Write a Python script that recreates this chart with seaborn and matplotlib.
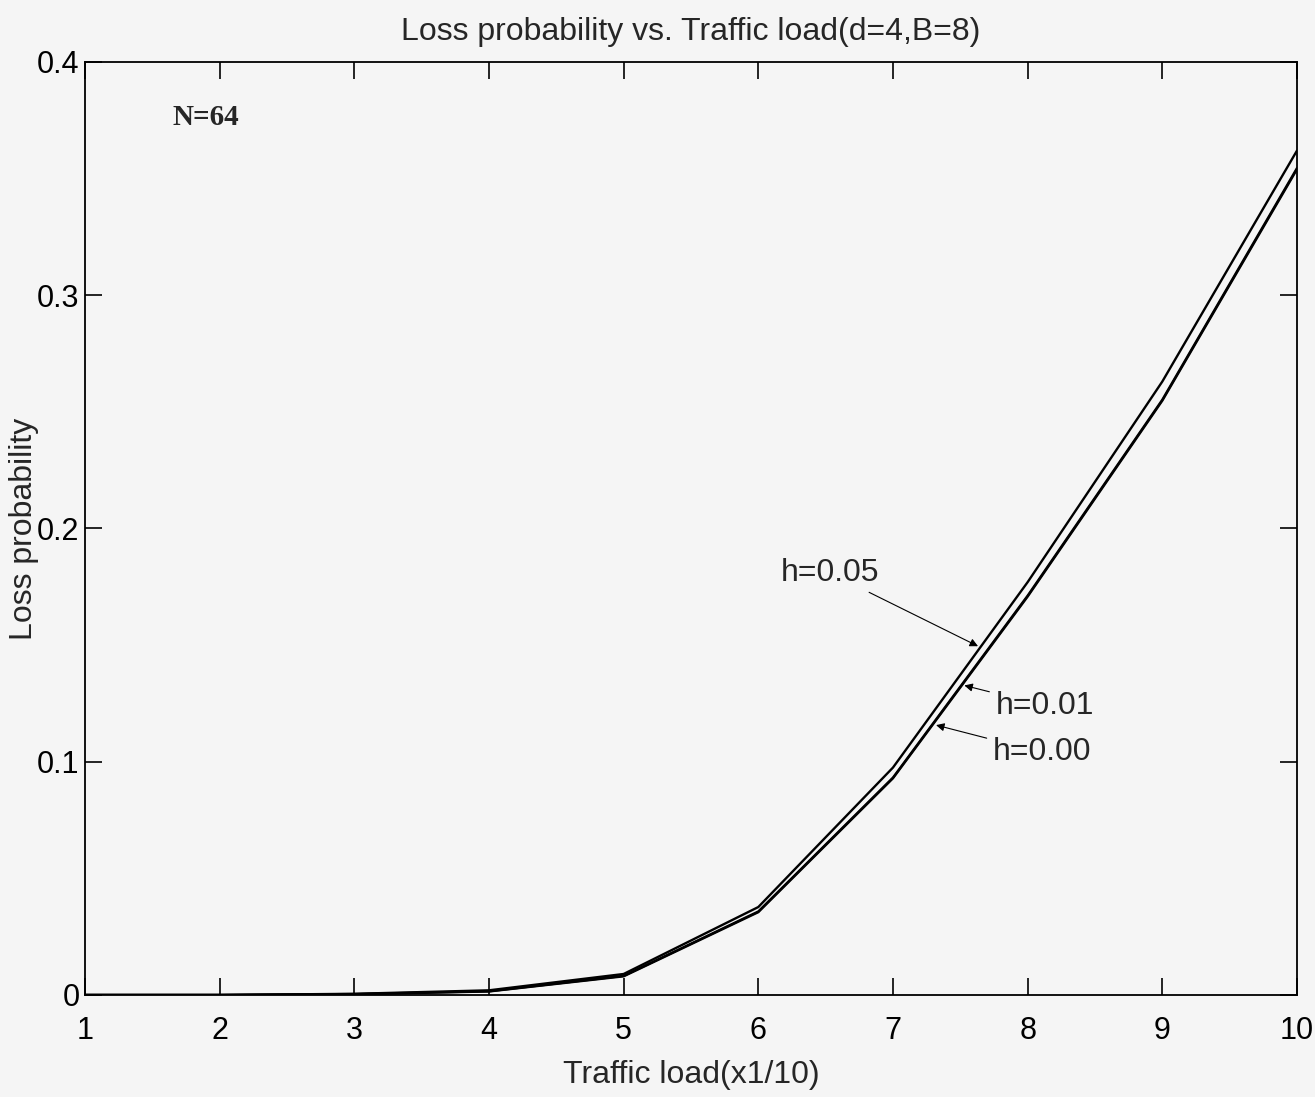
import matplotlib
matplotlib.use("Agg")
import matplotlib.pyplot as plt
import seaborn as sns
import pandas as pd

# ---- data ----
traffic_load = [1, 2, 3, 4, 5, 6, 7, 8, 9, 10]
loss_h005 = [0.0, 0.0, 0.0005, 0.002, 0.009, 0.0377, 0.0975, 0.177, 0.263, 0.362]
loss_h001 = [0.0, 0.0, 0.0004, 0.0016, 0.0082, 0.0358, 0.0932, 0.1712, 0.2552, 0.3545]
loss_h000 = [0.0, 0.0, 0.0003, 0.0015, 0.008, 0.0355, 0.0929, 0.1708, 0.2548, 0.354]
series_names = ["h=0.05", "h=0.01", "h=0.00"]
x_ticks = [1, 2, 3, 4, 5, 6, 7, 8, 9, 10]
y_ticks = [0, 0.1, 0.2, 0.3, 0.4]
y_tick_labels = ["0", "0.1", "0.2", "0.3", "0.4"]

df = pd.DataFrame({
    "load": traffic_load * 3,
    "loss": loss_h005 + loss_h001 + loss_h000,
    "h": [series_names[0]] * 10 + [series_names[1]] * 10 + [series_names[2]] * 10,
})

sns.set_theme(style="ticks")
plt.rcParams["font.family"] = ["Liberation Sans", "DejaVu Sans"]

bg = "#f5f5f5"
fig = plt.figure(figsize=(13.15, 10.97), dpi=100, facecolor=bg)
ax = fig.add_axes([0.0646, 0.093, 0.9217, 0.8505])
ax.set_facecolor(bg)

sns.lineplot(data=df, x="load", y="loss", hue="h", hue_order=series_names,
             palette=["black", "black", "black"], legend=False, ax=ax,
             linewidth=1.7, estimator=None, sort=False)

ax.set_xlim(1, 10)
ax.set_ylim(0, 0.4)
ax.set_xticks(x_ticks)
ax.set_yticks(y_ticks)
ax.set_yticklabels(y_tick_labels)
ax.tick_params(direction="in", length=12, width=1.2, top=True, right=True,
               labelsize=22, colors="black")
ax.tick_params(axis="x", pad=15)
ax.tick_params(axis="y", pad=4)
for s in ax.spines.values():
    s.set_visible(True)
    s.set_linewidth(1.3)
    s.set_color("black")

ax.set_title("Loss probability vs. Traffic load(d=4,B=8)", fontsize=23, pad=16)
ax.set_xlabel("Traffic load(x1/10)", fontsize=23, labelpad=10)
ax.set_ylabel("Loss probability", fontsize=23)
ax.yaxis.set_label_coords(-0.038, 0.5)

ax.text(1.65, 0.376, "N=64", fontsize=21, fontweight="bold",
        family=["Liberation Serif", "DejaVu Serif"], va="center", ha="left")

arrow = dict(arrowstyle="-|>", lw=0.8, color="black", mutation_scale=12)
ax.annotate("h=0.05", xy=(7.65, 0.149), xytext=(6.53, 0.181), fontsize=23,
            ha="center", va="center", arrowprops=arrow)
ax.annotate("h=0.01", xy=(7.51, 0.133), xytext=(7.76, 0.124), fontsize=23,
            ha="left", va="center", arrowprops=arrow)
ax.annotate("h=0.00", xy=(7.30, 0.116), xytext=(7.74, 0.104), fontsize=23,
            ha="left", va="center", arrowprops=arrow)

fig.savefig("out.png", dpi=100, facecolor=bg)
